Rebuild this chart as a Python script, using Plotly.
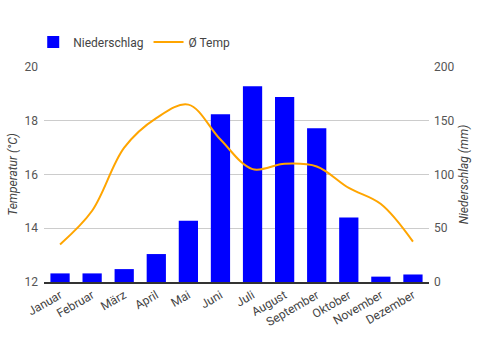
import plotly.graph_objects as go

months = ["Januar", "Februar", "März", "April", "Mai", "Juni", "Juli",
          "August", "September", "Oktober", "November", "Dezember"]
niederschlag = [8, 8, 12, 26, 57, 156, 182, 172, 143, 60, 5, 7]
temp = [13.4, 14.65, 17.0, 18.1, 18.6, 17.3, 16.2, 16.4, 16.3, 15.5, 14.9, 13.5]

fig = go.Figure()
fig.add_trace(go.Bar(
    x=months, y=niederschlag, name="Niederschlag",
    marker=dict(color="#0000FF", line=dict(width=0)),
    yaxis="y",
))
fig.add_trace(go.Scatter(
    x=months, y=temp, name="Ø Temp", mode="lines",
    line=dict(color="#FFA500", width=2, shape="spline", smoothing=1),
    yaxis="y2",
))

fig.update_layout(
    width=481, height=350,
    margin=dict(l=43, r=44, t=67, b=68),
    paper_bgcolor="white", plot_bgcolor="white",
    font=dict(family="Roboto", size=12, color="#555"),
    bargap=0.4,
    showlegend=True,
    legend=dict(orientation="h", x=-0.028, xanchor="left", y=1.116, yanchor="middle",
                font=dict(size=12, color="#444"), traceorder="normal"),
    xaxis=dict(tickangle=-30, showline=True, linecolor="#333", linewidth=1.5,
               showgrid=False, ticks="", tickfont=dict(size=12, color="#444")),
    yaxis=dict(side="right", range=[0, 200], dtick=50, showgrid=True,
               gridcolor="#ccc", zeroline=False, ticks="", ticklabelstandoff=4,
               title=dict(text="<i>Niederschlag (mm)</i>", font=dict(size=12, color="#444"),
                          standoff=6),
               tickfont=dict(size=12, color="#555")),
    yaxis2=dict(side="left", overlaying="y", range=[12, 20], dtick=2,
                showgrid=False, zeroline=False, ticks="", ticklabelstandoff=5,
                title=dict(text="<i>Temperatur (°C)</i>", font=dict(size=12, color="#444"),
                           standoff=4),
                tickfont=dict(size=12, color="#555")),
)

fig.write_html("out.html")
